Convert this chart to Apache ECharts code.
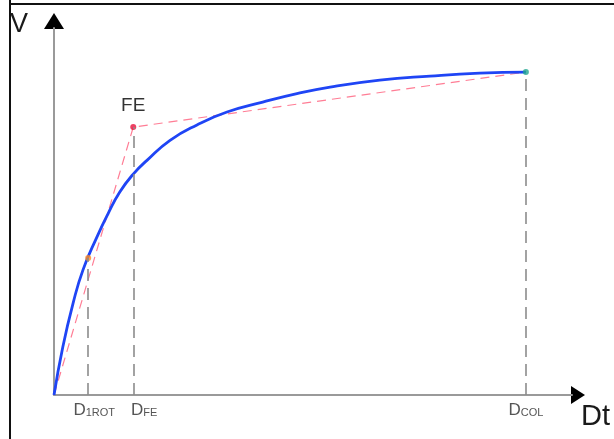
<!DOCTYPE html>
<html><head><meta charset="utf-8">
<script src="https://cdn.jsdelivr.net/npm/echarts@6/dist/echarts.min.js"></script>
<style>html,body{margin:0;padding:0;background:#fff;}#c{width:614px;height:439px;}</style>
</head><body><div id="c"></div>
<script>
// ---- data ----
var curveX = [0, 1.7, 3.7, 5.6, 8.3, 10.4, 12.7, 15.3, 18.0, 22.4, 27.6, 33.4, 40.3, 46.9, 53.3, 62.9, 72.6, 82.2, 91.1];
var curveY = [0, 13.1, 25.1, 34.1, 43.1, 49.3, 55.3, 60.2, 64.0, 69.4, 73.6, 77.1, 79.8, 82.1, 83.9, 85.8, 86.9, 87.7, 88.0];
var bilinX = [0, 15.3, 91.1];
var bilinY = [0, 73.0, 88.0];
var pointNames = ['1ROT', 'FE', 'COL'];
var pointX = [6.6, 15.3, 91.1];
var pointY = [37.3, 73.0, 88.0];
var pointColors = ['#ff8a1e', '#e8123c', '#1fa58f'];
var tickValues = [6.6, 15.3, 91.1];
var tickMain = ['D', 'D', 'D'];
var tickSub = ['1ROT', 'FE', 'COL'];
var tickPad = [12, 22, 0];

var chart = echarts.init(document.getElementById('c'));
var curve = curveX.map(function (x, i) { return [x, curveY[i]]; });
var bilin = bilinX.map(function (x, i) { return [x, bilinY[i]]; });
var pts = pointX.map(function (x, i) {
  return { value: [x, pointY[i]], itemStyle: { color: pointColors[i] },
    label: { show: pointNames[i] === 'FE', formatter: 'FE', color: '#000' } };
});
var vlines = pointX.map(function (x, i) { return [{ coord: [x, 0] }, { coord: [x, pointY[i]] }]; });

var dStyle = function (p) {
  return { fontSize: 17, color: '#555', fontFamily: 'Liberation Sans', padding: [0, 0, 0, p], verticalAlign: 'bottom' };
};

chart.setOption({
  animation: false,
  grid: { left: 54, top: 28, width: 518, height: 367 },
  xAxis: {
    type: 'value', min: 0, max: 100,
    splitLine: { show: false }, axisTick: { show: false },
    axisLine: { show: true, lineStyle: { color: '#9a9a9a', width: 2 } },
    axisLabel: {
      customValues: tickValues, margin: 7, color: '#555',
      fontFamily: 'Liberation Sans',
      formatter: function (v) {
        var i = tickValues.indexOf(v);
        if (i < 0) return '';
        return '{d' + i + '|' + tickMain[i] + '}{s|' + tickSub[i] + '}';
      },
      rich: {
        d0: dStyle(tickPad[0]),
        d1: dStyle(tickPad[1]),
        d2: dStyle(tickPad[2]),
        s: { fontSize: 11, color: '#555', fontFamily: 'Liberation Sans', verticalAlign: 'bottom', padding: [0, 0, 1, 0] }
      }
    }
  },
  yAxis: {
    type: 'value', min: 0, max: 100,
    splitLine: { show: false }, axisTick: { show: false }, axisLabel: { show: false },
    axisLine: { show: true, lineStyle: { color: '#9a9a9a', width: 2 } }
  },
  series: [
    {
      type: 'line', name: 'bilinear', data: bilin, symbol: 'none', z: 2,
      lineStyle: { color: '#ff7d95', width: 1.2, type: [9, 6] },
      markLine: {
        silent: true, symbol: ['none', 'none'], label: { show: false },
        lineStyle: { color: '#8c8c8c', width: 1.6, type: [12, 7] },
        data: vlines
      }
    },
    {
      type: 'line', name: 'curve', data: curve, symbol: 'none', smooth: 0.5, z: 3,
      lineStyle: { color: '#1f45f5', width: 2.8 }
    },
    {
      type: 'scatter', name: 'points', data: pts, symbolSize: 6, z: 4,
      label: { position: 'top', distance: 9, color: '#000', fontSize: 19, fontFamily: 'Liberation Sans' }
    }
  ]
});

var xe = chart.convertToPixel('grid', [100, 0]);
var ye = chart.convertToPixel('grid', [0, 100]);
chart.setOption({
  graphic: [
    { type: 'line', shape: { x1: 10, y1: 0, x2: 10, y2: 439 }, style: { stroke: '#111', lineWidth: 2 } },
    { type: 'line', shape: { x1: 10, y1: 4, x2: 614, y2: 4 }, style: { stroke: '#111', lineWidth: 2 } },
    { type: 'polygon', shape: { points: [[xe[0] - 1, xe[1] - 9], [xe[0] + 13, xe[1]], [xe[0] - 1, xe[1] + 9]] }, style: { fill: '#000' } },
    { type: 'polygon', shape: { points: [[ye[0] - 10, ye[1] + 1], [ye[0], ye[1] - 15], [ye[0] + 10, ye[1] + 1]] }, style: { fill: '#000' } },
    { type: 'text', left: 10, top: 11, style: { text: 'V', fontSize: 27, fill: '#1a1a1a', fontFamily: 'Liberation Sans' } },
    { type: 'text', left: 581, top: 402, style: { text: 'Dt', fontSize: 29, fill: '#1a1a1a', fontFamily: 'Liberation Sans' } }
  ]
});
</script></body></html>
